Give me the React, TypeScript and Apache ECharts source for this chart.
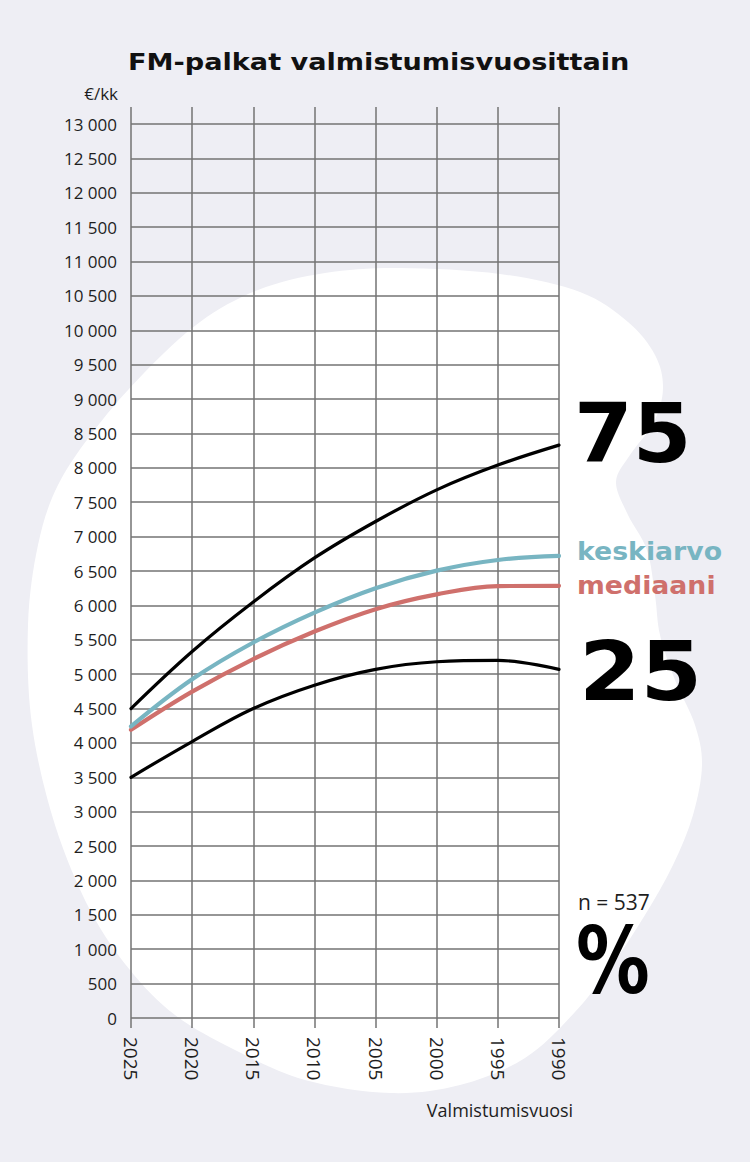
import React, { useEffect, useRef } from "react";
import * as echarts from "echarts";

// ---- data ----
const years = [2025, 2020, 2015, 2010, 2005, 2000, 1995, 1990];
const p75 = [4500, 5330, 6050, 6690, 7220, 7680, 8040, 8330];
const keskiarvo = [4240, 4925, 5460, 5895, 6250, 6505, 6660, 6720];
const mediaani = [4190, 4745, 5220, 5620, 5945, 6160, 6280, 6285];
const p25 = [3500, 4020, 4500, 4840, 5070, 5180, 5200, 5070];
const xTicks = { min: 1990, max: 2025, step: 5 };
const yTicks = { min: 0, max: 13000, step: 500 };

// ---- decorative blob (background shape) ----
const blobPts: [number, number][] = [
  [400, 268], [500, 274], [580, 292], [628, 322], [655, 355], [663, 388], [654, 422],
  [630, 455], [616, 482], [628, 515], [647, 550], [655, 595], [660, 635], [675, 680],
  [695, 725], [702, 765], [693, 815], [673, 865], [645, 915], [612, 965], [575, 1012],
  [525, 1058], [460, 1085], [390, 1093], [305, 1080], [235, 1050], [175, 1015],
  [130, 970], [90, 910], [55, 825], [32, 725], [28, 625], [38, 545], [58, 485],
  [96, 428], [144, 373], [200, 322], [258, 290], [325, 273],
];
function blobPath(p: [number, number][]) {
  const n = p.length;
  let d = `M${p[0][0]},${p[0][1]}`;
  for (let i = 0; i < n; i++) {
    const p0 = p[(i - 1 + n) % n], p1 = p[i], p2 = p[(i + 1) % n], p3 = p[(i + 2) % n];
    const c1x = p1[0] + (p2[0] - p0[0]) / 6, c1y = p1[1] + (p2[1] - p0[1]) / 6;
    const c2x = p2[0] - (p3[0] - p1[0]) / 6, c2y = p2[1] - (p3[1] - p1[1]) / 6;
    d += ` C${c1x.toFixed(1)},${c1y.toFixed(1)} ${c2x.toFixed(1)},${c2y.toFixed(1)} ${p2[0]},${p2[1]}`;
  }
  return d + " Z";
}
echarts.graphic.registerShape("blob", echarts.graphic.extendPath(blobPath(blobPts), {}) as any);

const GRID_COLOR = "#737373";
const TEAL = "#78b5c2";
const RED = "#cf706c";

const pairs = (vals: number[]) => years.map((y, i) => [y, vals[i]]);
const fmt = (v: number) =>
  v >= 1000 ? `${Math.floor(v / 1000)} ${String(v % 1000).padStart(3, "0")}` : String(v);

export default function App() {
  const ref = useRef<HTMLDivElement>(null);
  useEffect(() => {
    document.body.style.margin = "0";
    const chart = echarts.init(ref.current!, null, { renderer: "svg" });
    const lineSeries = (name: string, vals: number[], color: string, width: number) => ({
      name,
      type: "line",
      xAxisIndex: 0,
      yAxisIndex: 0,
      data: pairs(vals),
      smooth: 0.38,
      showSymbol: false,
      silent: true,
      lineStyle: { color, width, cap: "round" },
      z: 5,
    });
    const big = { align: "left", verticalAlign: "middle", fontFamily: "DejaVu Sans", fontWeight: "bold", fill: "#000" };
    chart.setOption({
      animation: false,
      backgroundColor: "#eeeef4",
      grid: [
        { left: 131, right: 191, top: 124, bottom: 144 },
        { left: 131, right: 191, top: 107, bottom: 144 },
      ],
      xAxis: [
        { type: "value", gridIndex: 0, min: xTicks.min, max: xTicks.max, interval: xTicks.step, inverse: true, show: false },
        {
          type: "value",
          gridIndex: 1,
          min: xTicks.min,
          max: xTicks.max,
          interval: xTicks.step,
          inverse: true,
          axisLine: { show: false },
          axisTick: { show: true, length: 10, lineStyle: { color: GRID_COLOR, width: 1.5 } },
          splitLine: { show: true, lineStyle: { color: GRID_COLOR, width: 1.5 } },
          axisLabel: {
            rotate: -90,
            margin: 19,
            fontFamily: "Open Sans",
            fontSize: 19,
            color: "#1e1e1e",
            formatter: (v: number) => String(v),
          },
        },
      ],
      yAxis: [
        {
          type: "value",
          gridIndex: 0,
          min: yTicks.min,
          max: yTicks.max,
          interval: yTicks.step,
          axisLine: { show: false },
          axisTick: { show: false },
          splitLine: { show: true, lineStyle: { color: GRID_COLOR, width: 1.5 } },
          axisLabel: { margin: 14, fontFamily: "Open Sans", fontSize: 17, color: "#1e1e1e", formatter: fmt },
        },
        { type: "value", gridIndex: 1, min: 0, max: 1, show: false },
      ],
      graphic: [
        { type: "blob", x: 0, y: 0, z: -10, silent: true, style: { fill: "#ffffff" } },
        { type: "text", x: 128, y: 62, scaleX: 1.18, style: { text: "FM-palkat valmistumisvuosittain", align: "left", verticalAlign: "middle", fontFamily: "DejaVu Sans", fontWeight: "bold", fontSize: 23, fill: "#111" } },
        { type: "text", x: 118, y: 93, style: { text: "€/kk", align: "right", verticalAlign: "middle", fontFamily: "Open Sans", fontSize: 17, fill: "#1e1e1e" } },
        { type: "text", x: 574, y: 434, scaleX: 1.03, style: { ...big, text: "75", fontSize: 82 } },
        { type: "text", x: 579, y: 672, scaleX: 1.08, style: { ...big, text: "25", fontSize: 82 } },
        { type: "text", x: 577, y: 551, scaleX: 1.07, style: { text: "keskiarvo", align: "left", verticalAlign: "middle", fontFamily: "DejaVu Sans", fontWeight: "bold", fontSize: 25, fill: TEAL } },
        { type: "text", x: 577, y: 585, scaleX: 1.07, style: { text: "mediaani", align: "left", verticalAlign: "middle", fontFamily: "DejaVu Sans", fontWeight: "bold", fontSize: 25, fill: RED } },
        { type: "text", x: 578, y: 902, style: { text: "n = 537", align: "left", verticalAlign: "middle", fontFamily: "Open Sans", fontSize: 21, fill: "#1e1e1e" } },
        { type: "text", x: 576, y: 962, scaleX: 0.8, style: { ...big, text: "%", fontSize: 92 } },
        { type: "text", x: 500, y: 1110, style: { text: "Valmistumisvuosi", align: "center", verticalAlign: "middle", fontFamily: "Open Sans", fontSize: 18, fill: "#1e1e1e" } },
      ],
      series: [
        lineSeries("25", p25, "#000", 3.2),
        lineSeries("mediaani", mediaani, RED, 4.2),
        lineSeries("keskiarvo", keskiarvo, TEAL, 4.2),
        lineSeries("75", p75, "#000", 3.2),
      ],
    });
    return () => chart.dispose();
  }, []);
  return <div ref={ref} style={{ width: 750, height: 1162 }} />;
}
